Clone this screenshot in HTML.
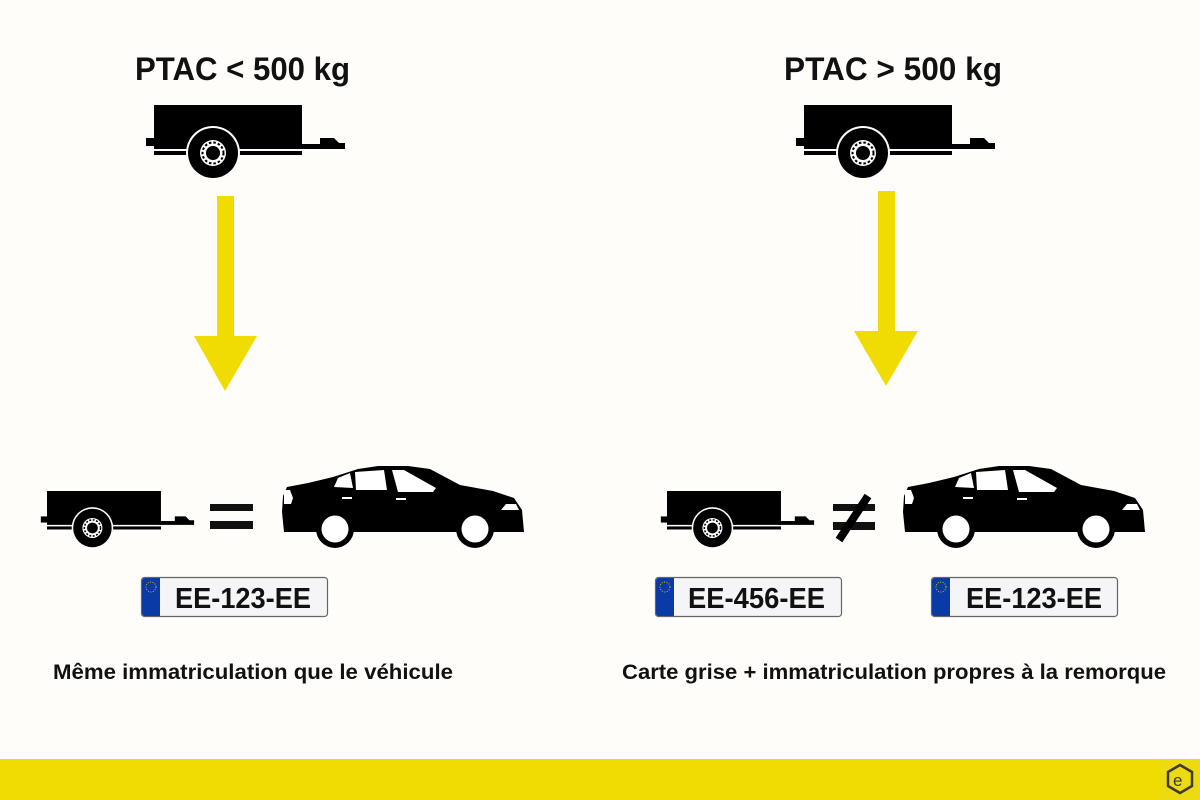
<!DOCTYPE html>
<html><head><meta charset="utf-8"><style>
html,body{margin:0;padding:0;background:#fefdf9;}
svg{display:block;}
text{font-family:"Liberation Sans",sans-serif;font-weight:bold;fill:#111;}
</style></head><body>
<svg width="1200" height="800" viewBox="0 0 1200 800" xmlns="http://www.w3.org/2000/svg">
<defs>
<g id="trailer">
  <rect x="0" y="0" width="148" height="44" fill="#000"/>
  <rect x="0" y="46" width="148" height="4" fill="#000"/>
  <rect x="-8" y="33" width="9" height="8" fill="#000"/>
  <rect x="146" y="39" width="45" height="5" fill="#000"/>
  <path d="M166,33 L180,33 L185,38 L191,38 L191,41 L166,41 Z" fill="#000"/>
  <circle cx="59" cy="48" r="27" fill="#fefdf9"/>
  <circle cx="59" cy="48" r="25" fill="#000"/>
  <circle cx="59" cy="48" r="13" fill="#fff"/>
  <circle cx="59" cy="48" r="10.5" fill="none" stroke="#000" stroke-width="2" stroke-dasharray="2.5 2"/>
  <circle cx="59" cy="48" r="7" fill="#000"/>
</g>
<g id="car">
  <path d="M6,72 L4,52 L5,36 L9,27 L30,23 L55,17 L80,9 L100,6 L130,6 L152,9 L182,25 L215,31 L236,38 L244,50 L246,72 Z" fill="#000"/>
  <circle cx="57" cy="69" r="19" fill="#000"/>
  <circle cx="197" cy="69" r="19" fill="#000"/>
  <circle cx="57" cy="69" r="13.5" fill="#fff"/>
  <circle cx="197" cy="69" r="13.5" fill="#fff"/>
  <path d="M56,27 L60,18 L72,13 L75,28 Z" fill="#fff"/>
  <path d="M77,12 L106,10 L109,30 L78,30 Z" fill="#fff"/>
  <path d="M114,10 L126,10 L158,28 L155,32 L120,32 Z" fill="#fff"/>
  <path d="M223,50 L228,44 L238,44 L241,50 Z" fill="#fff"/>
  <path d="M6,30 L12,30 L15,38 L13,44 L6,44 Z" fill="#fff"/>
  <rect x="64" y="37" width="10" height="2" fill="#fff"/>
  <rect x="118" y="38" width="10" height="2" fill="#fff"/>
</g>
<g id="plate">
  <rect x="0.5" y="0.5" width="186" height="39" rx="3" fill="#f5f5f7" stroke="#666" stroke-width="1.2"/>
  <path d="M1,4 Q1,1 4,1 L19,1 L19,39 L4,39 Q1,39 1,36 Z" fill="#0a3aa6"/>
  <circle cx="10" cy="10" r="5" fill="none" stroke="#d8c000" stroke-width="1" stroke-dasharray="1 1.5"/>
</g>
</defs>

<text x="135" y="80" font-size="32" textLength="215" lengthAdjust="spacingAndGlyphs">PTAC &lt; 500 kg</text>
<text x="784" y="80" font-size="32" textLength="218" lengthAdjust="spacingAndGlyphs">PTAC &gt; 500 kg</text>

<use href="#trailer" x="154" y="105"/>
<use href="#trailer" x="804" y="105"/>

<rect x="217" y="196" width="17" height="141" fill="#f0dc00"/>
<polygon points="194,336 257,336 225,391" fill="#f0dc00"/>
<rect x="878" y="191" width="17" height="141" fill="#f0dc00"/>
<polygon points="854,331 918,331 886,386" fill="#f0dc00"/>

<g transform="translate(47,491) scale(0.77)"><use href="#trailer"/></g>
<rect x="210" y="504" width="43" height="7" fill="#111"/>
<rect x="210" y="521" width="43" height="8" fill="#111"/>
<use href="#car" x="278" y="460"/>

<g transform="translate(667,491) scale(0.77)"><use href="#trailer"/></g>
<rect x="833" y="504" width="42" height="7" fill="#111"/>
<rect x="833" y="522" width="42" height="8" fill="#111"/>
<line x1="868" y1="496" x2="839" y2="540" stroke="#000" stroke-width="8"/>
<use href="#car" x="899" y="460"/>

<use href="#plate" x="141" y="577"/>
<text x="175" y="608" font-size="29" textLength="136" lengthAdjust="spacingAndGlyphs">EE-123-EE</text>
<use href="#plate" x="655" y="577"/>
<text x="688" y="608" font-size="29" textLength="137" lengthAdjust="spacingAndGlyphs">EE-456-EE</text>
<use href="#plate" x="931" y="577"/>
<text x="966" y="608" font-size="29" textLength="136" lengthAdjust="spacingAndGlyphs">EE-123-EE</text>

<text x="53" y="679" font-size="21" textLength="400" lengthAdjust="spacingAndGlyphs">Même immatriculation que le véhicule</text>
<text x="622" y="679" font-size="21" textLength="544" lengthAdjust="spacingAndGlyphs">Carte grise + immatriculation propres à la remorque</text>

<rect x="0" y="759" width="1200" height="41" fill="#f0dc00"/>
<rect x="1159" y="759" width="41" height="41" fill="#eeda10"/>
<polygon points="1180,765 1192,772 1192,786 1180,793 1168,786 1168,772" fill="none" stroke="#3d3a35" stroke-width="2.5"/>
<text x="1173" y="786" font-size="17" style="fill:#3d3a35;font-weight:normal">e</text>
</svg>
</body></html>
